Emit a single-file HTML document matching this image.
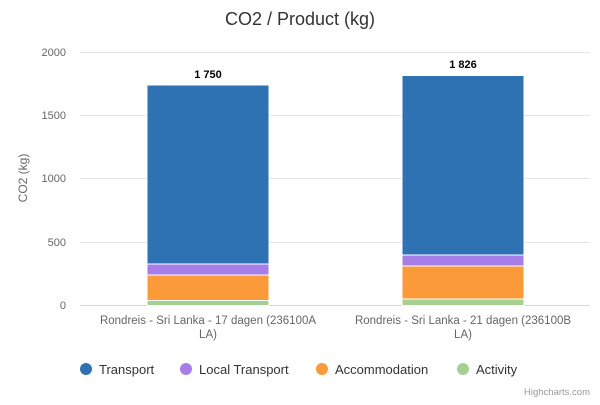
<!DOCTYPE html>
<html><head><style>body{margin:0;background:#fff}</style></head><body>
<svg width="600" height="400" xmlns="http://www.w3.org/2000/svg" font-family="'Liberation Sans',sans-serif">
<rect width="600" height="400" fill="#fff"/>
<text x="300" y="25" text-anchor="middle" font-size="18" fill="#333">CO2 / Product (kg)</text>
<g stroke="#e6e6e6" stroke-width="1">
<line x1="80" x2="590" y1="52.5" y2="52.5"/>
<line x1="80" x2="590" y1="115.5" y2="115.5"/>
<line x1="80" x2="590" y1="178.5" y2="178.5"/>
<line x1="80" x2="590" y1="242.5" y2="242.5"/>
</g>
<line x1="80" x2="590" y1="305.5" y2="305.5" stroke="#ccd6eb"/>
<g font-size="11" fill="#666" text-anchor="end">
<text x="66" y="56">2000</text><text x="66" y="119">1500</text><text x="66" y="182">1000</text><text x="66" y="246">500</text><text x="66" y="309">0</text>
</g>
<text transform="translate(27,178) rotate(-90)" text-anchor="middle" font-size="12" fill="#666">CO2 (kg)</text>
<g stroke="#fff" stroke-width="1">
<rect x="147" y="85" width="122" height="179" fill="#2f72b4"/>
<rect x="147" y="264" width="122" height="11" fill="#a77ee8"/>
<rect x="147" y="275" width="122" height="25.5" fill="#fb9a38"/>
<rect x="147" y="300.5" width="122" height="5" fill="#a5d190"/>
<rect x="402" y="75.5" width="122" height="179.5" fill="#2f72b4"/>
<rect x="402" y="255" width="122" height="11" fill="#a77ee8"/>
<rect x="402" y="266" width="122" height="33" fill="#fb9a38"/>
<rect x="402" y="299" width="122" height="6.5" fill="#a5d190"/>
</g>
<g font-size="11" font-weight="bold" fill="#000" text-anchor="middle">
<text x="208" y="78">1 750</text><text x="463" y="68">1 826</text>
</g>
<g font-size="11.5" fill="#666" text-anchor="middle">
<text x="208" y="324">Rondreis - Sri Lanka - 17 dagen (236100A</text>
<text x="208" y="338">LA)</text>
<text x="463" y="324">Rondreis - Sri Lanka - 21 dagen (236100B</text>
<text x="463" y="338">LA)</text>
</g>
<g font-size="13" fill="#333">
<circle cx="86" cy="369" r="6" fill="#2f72b4"/><text x="99" y="374">Transport</text>
<circle cx="186" cy="369" r="6" fill="#a77ee8"/><text x="199" y="374">Local Transport</text>
<circle cx="322" cy="369" r="6" fill="#fb9a38"/><text x="335" y="374">Accommodation</text>
<circle cx="463" cy="369" r="6" fill="#a5d190"/><text x="476" y="374">Activity</text>
</g>
<text x="590" y="395" text-anchor="end" font-size="9.5" fill="#999">Highcharts.com</text>
</svg>
</body></html>
